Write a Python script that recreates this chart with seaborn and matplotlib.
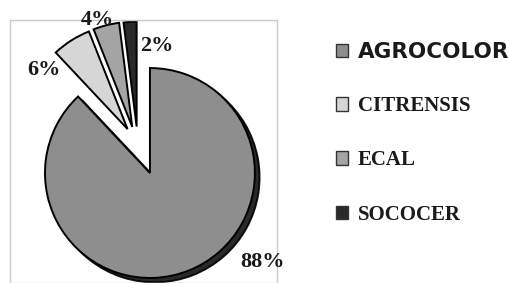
import numpy as np
import seaborn as sns
import matplotlib.pyplot as plt
from matplotlib.patches import Patch, Shadow

# datos del gráfico
empresas = ['AGROCOLOR', 'CITRENSIS', 'ECAL', 'SOCOCER']
porcentajes = [88, 6, 4, 2]
etiquetas = ['88%', '6%', '4%', '2%']
colores = ['#8e8e8e', '#d6d6d6', '#a4a4a4', '#2a2a2a']

# separación de las porciones pequeñas (distancia, dirección en grados)
sep_dist = [0.0, 0.47, 0.47, 0.46]
sep_ang = [0, 117, 111, 106]

sns.set_theme(style='white')
plt.rcParams['font.family'] = ['Liberation Serif', 'DejaVu Serif']

fig = plt.figure(figsize=(5.10, 2.83), dpi=100)
ax = fig.add_axes([0.0196, 0.0, 0.5235, 0.929])

wedges, _ = ax.pie(porcentajes, colors=colores,
                   startangle=90, counterclock=False,
                   wedgeprops={'edgecolor': 'black', 'linewidth': 1.4})
for w, d, a in zip(wedges, sep_dist, sep_ang):
    w.set_center((d * np.cos(np.radians(a)), d * np.sin(np.radians(a))))
    w.set_clip_on(False)

# sombra oscura sólo en la porción grande
sombra = Shadow(wedges[0], 0.032, -0.03, shade=1.0)
sombra.set_facecolor('#111111')
sombra.set_alpha(0.9)
sombra.set_zorder(wedges[0].get_zorder() - 0.1)
ax.add_patch(sombra)

ax.set_aspect('equal')
ax.set_xlim(-1.333, 1.21)
ax.set_ylim(-1.048, 1.457)
ax.set_frame_on(True)

# posiciones de las etiquetas (fracción de radio)
pos_etiquetas = [(1.07, -0.85), (-1.01, 0.98), (-0.50, 1.46), (0.07, 1.21)]
for txt, (x, y) in zip(etiquetas, pos_etiquetas):
    ax.text(x, y, txt, ha='center', va='center', fontsize=16,
            fontweight='bold', color='#1a1a1a', clip_on=False, zorder=5)

for s in ax.spines.values():
    s.set_visible(True)
    s.set_color('#c8c8c8')
    s.set_linewidth(1.0)

handles = [Patch(facecolor=c, edgecolor='#333333', linewidth=1.0) for c in colores]
leg = fig.legend(handles, empresas, loc='upper left',
                 bbox_to_anchor=(0.638, 0.888), frameon=False,
                 fontsize=15, handlelength=0.6, handleheight=0.6,
                 handletextpad=0.45, labelspacing=1.64, borderpad=0)
for i, t in enumerate(leg.get_texts()):
    t.set_fontweight('bold')
    t.set_color('#1a1a1a')
    if i == 0:
        t.set_fontfamily('DejaVu Sans')
        t.set_fontsize(15.5)

fig.savefig('out.png', dpi=100)
